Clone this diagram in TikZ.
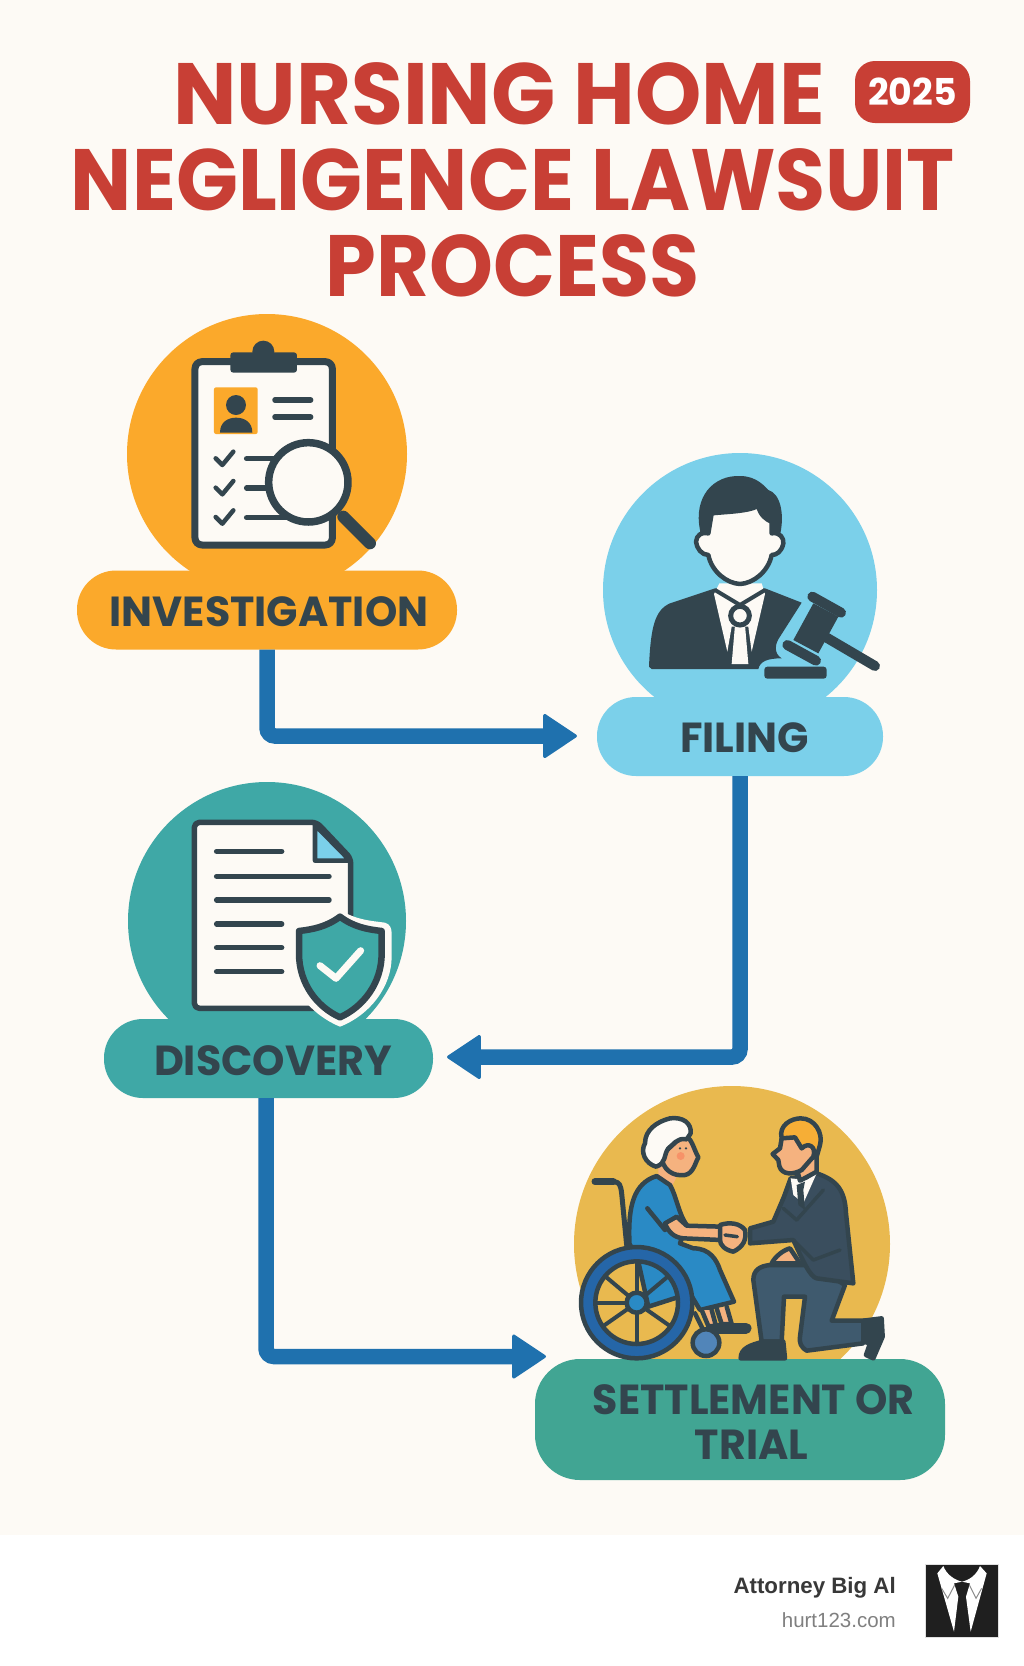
\documentclass[tikz,border=0pt]{standalone}
\usepackage{fontspec}
\usetikzlibrary{arrows.meta}
\newfontfamily\headfont[FakeStretch=0.935]{Poppins}
\newfontfamily\headwide[FakeStretch=0.97]{Poppins}
\newfontfamily\labelfont[FakeStretch=0.98]{Poppins}
\newfontfamily\footfont{Liberation Sans}
\definecolor{paper}{HTML}{FDFAF5}
\definecolor{titlered}{HTML}{C83F35}
\definecolor{inkc}{HTML}{33454E}
\definecolor{flowblue}{HTML}{1F71AE}
\definecolor{orangec}{HTML}{FBA92B}
\definecolor{skyc}{HTML}{7BD0EA}
\definecolor{tealc}{HTML}{3FA8A6}
\definecolor{goldc}{HTML}{E9B94F}
\definecolor{greenc}{HTML}{41A593}
\definecolor{skinc}{HTML}{F5B27F}
\definecolor{dressc}{HTML}{2A8AC5}
\definecolor{rimc}{HTML}{2566A8}
\definecolor{suitc}{HTML}{3A4E5E}
\definecolor{trousc}{HTML}{3F5A6E}
\tikzset{
  stepbox/.style={rounded corners=39pt,minimum height=79pt,inner sep=0pt,text=inkc,
    font=\labelfont\bfseries\fontsize{42}{44}\selectfont},
  flowline/.style={draw=flowblue,line width=15.5pt,rounded corners=8pt,
    -{Triangle[length=35pt,width=46pt,line width=3pt,round]}},
  headline/.style={text=titlered,anchor=base,inner sep=0pt,
    font=\headfont\bfseries\fontsize{87}{87}\selectfont},
  ink/.style={draw=inkc,line width=4.5pt,line join=round,line cap=round},
  rowline/.style={draw=inkc,line width=5.5pt,line cap=round},
}
\begin{document}
\begin{tikzpicture}[x=1pt,y=-1pt]
\useasboundingbox (0,0) rectangle (1024,1666);
\fill[white] (0,0) rectangle (1024,1666);
\fill[paper] (0,0) rectangle (1024,1535);

% title
\node[headline,font=\headwide\bfseries\fontsize{87}{87}\selectfont] (titletop) at (499,124) {NURSING HOME};
\node[headline] (titlemid) at (513,210) {NEGLIGENCE LAWSUIT};
\node[headline] (titlelow) at (512.5,296) {PROCESS};
\node[fill=titlered,rounded corners=20pt,minimum width=115pt,minimum height=62pt,inner sep=0pt,
  text=white,font=\labelfont\bfseries\fontsize{37}{37}\selectfont] (yearbadge) at (912.5,92) {2025};

% discs behind the steps
\fill[orangec] (267,454) circle (140);
\fill[skyc] (740,590) circle (137);
\fill[tealc] (267,921) circle (139);
\fill[goldc] (732,1244) circle (158);

% steps
\node[stepbox,fill=orangec,minimum width=380pt] (investigation) at (267,610) {\rule{0pt}{34pt}\hspace*{4pt}INVESTIGATION};
\node[stepbox,fill=skyc,minimum width=286pt] (filing) at (740,736.5) {\rule{0pt}{32pt}\hspace*{9pt}FILING};
\node[stepbox,fill=tealc,minimum width=329pt] (discovery) at (268.5,1058.5) {\rule{0pt}{34pt}\hspace*{9pt}DISCOVERY};
\node[stepbox,fill=greenc,minimum width=410pt,minimum height=121pt,rounded corners=45pt,align=center] (settlement) at (740,1419.5)
  {\rule{0pt}{35pt}\hspace*{27pt}SETTLEMENT OR\\[1pt]\hspace*{23pt}TRIAL};

% connectors
\coordinate (filingin) at (577,736);
\coordinate (discoveryin) at (447,1057);
\coordinate (settlementin) at (546,1356.5);
\draw[flowline] (investigation.south) |- (filingin);
\draw[flowline] (filing.south) |- (discoveryin);
\draw[flowline] ([xshift=-2.5pt]discovery.south) |- (settlementin);

% clipboard
\begin{scope}[shift={(60,300)},scale=1/3]
  \draw[ink,line width=7pt,fill=paper,rounded corners=7pt] (405,185) rectangle (817,735);
  \fill[inkc] (610,155) circle (33);
  \fill[inkc,rounded corners=3pt] (511,157) rectangle (711,218);
  \fill[orangec,rounded corners=2pt] (462,262) rectangle (593,402);
  \fill[inkc] (528,315) circle (30);
  \fill[inkc] (480,398) .. controls (480,365) and (505,353) .. (528,353) .. controls (552,353) and (577,365) .. (577,398) -- cycle;
  \draw[rowline] (645,300) -- (752,300);
  \draw[rowline] (645,351) -- (752,351);
  \foreach \y in {0,88,176}
  {   \draw[ink] (467,475+\y) -- (487,495+\y) -- (520,455+\y);
  }
  \draw[rowline] (560,476) -- (650,476);
  \draw[rowline] (560,564) -- (630,564);
  \draw[rowline] (560,653) -- (690,653);
  \draw[draw=inkc,line width=12pt,line cap=round] (850,650) -- (930,730);
  \draw[ink,line width=7.5pt,fill=paper] (745,547) circle (119);
\end{scope}

% lawyer and gavel
\begin{scope}[shift={(580,440)},scale=1/3]
  \fill[inkc] (207,680) .. controls (212,560) and (225,510) .. (270,490) -- (405,445) -- (555,445) -- (665,488)
    -- (600,590) .. controls (585,610) and (580,640) .. (605,655) .. controls (560,655) and (540,665) .. (535,687) -- (215,687) -- cycle;
  \fill[paper] (402,462) -- (418,430) -- (545,430) -- (555,462) -- (515,635) -- (505,560) -- (455,560) -- (442,635) -- cycle;
  \draw[draw=inkc,line width=4pt,line join=round] (405,450) -- (480,495) -- (555,450);
  \fill[paper] (465,555) -- (495,555) -- (505,672) -- (455,672) -- cycle;
  \draw[draw=inkc,line width=5pt,fill=paper] (480,527) circle (28);
  \fill[inkc] (360,270) .. controls (340,170) and (400,105) .. (480,108) .. controls (530,108) and (555,140) .. (565,150)
    .. controls (600,160) and (615,220) .. (600,285) -- (360,285) -- cycle;
  \draw[ink,fill=paper] (395,220) .. controls (440,215) and (500,215) .. (535,198) .. controls (540,225) and (560,240) .. (575,245)
    -- (575,280) .. controls (600,275) and (612,295) .. (610,310) .. controls (605,335) and (590,345) .. (575,345)
    .. controls (565,395) and (520,430) .. (480,432) .. controls (440,430) and (395,395) .. (385,345)
    .. controls (365,345) and (350,325) .. (348,305) .. controls (350,285) and (365,275) .. (385,280) -- cycle;
  \draw[draw=inkc,line width=10pt,line cap=round] (735,590) -- (885,678);
  \fill[inkc] (700,490) -- (775,530) -- (715,640) -- (640,600) -- cycle;
  \draw[draw=inkc,line width=10pt,line cap=round] (697,470) -- (783,518);
  \draw[draw=inkc,line width=10pt,line cap=round] (622,615) -- (708,662);
  \fill[inkc,rounded corners=3pt] (553,680) rectangle (740,716);
\end{scope}

% document and shield
\begin{scope}[shift={(100,770)},scale=1/3]
  \draw[ink,line width=5.5pt,fill=paper,rounded corners=5pt] (283,157) -- (650,157) -- (752,265) -- (752,715) -- (283,715) -- cycle;
  \draw[ink,fill=skyc] (645,165) -- (645,272) -- (750,272) -- cycle;
  \foreach \y/\xend in {244/545,319/687,390/687,462/545,533/545,605/545}
  {   \draw[rowline] (350,\y) -- (\xend,\y);
  }
  \fill[paper] (720,420) .. controls (770,450) and (810,452) .. (855,458) .. controls (870,462) and (875,475) .. (875,490)
    -- (875,560) .. controls (875,650) and (810,735) .. (720,770) .. controls (660,745) and (610,700) .. (580,640) -- (570,470)
    .. controls (630,462) and (680,450) .. (720,420) -- cycle;
  \draw[ink,line width=6.5pt,fill=tealc] (720,440) .. controls (680,470) and (640,478) .. (597,483) -- (597,550)
    .. controls (597,640) and (650,710) .. (720,742) .. controls (790,710) and (845,640) .. (845,550) -- (845,483)
    .. controls (800,478) and (760,470) .. (720,440) -- cycle;
  \draw[draw=paper,line width=7pt,line cap=round,line join=round] (660,587) -- (708,625) -- (782,542);
\end{scope}

% patient and lawyer shaking hands
\begin{scope}[shift={(530,1080)},scale=1/3]
  \draw[ink,line width=5pt] (250,305) .. controls (268,305) and (272,315) .. (275,340) -- (290,495);
  \draw[draw=inkc,line width=7pt,line cap=round] (195,305) -- (250,305);
  \fill[skinc] (385,250) -- (385,290) -- (425,320) -- (445,280) -- cycle;
  \draw[ink,fill=dressc] (298,480) .. controls (295,380) and (310,310) .. (380,288) -- (420,315)
    .. controls (440,350) and (445,400) .. (470,435) -- (450,490) -- (490,505) .. controls (540,505) and (560,540) .. (570,570)
    -- (612,665) -- (510,690) -- (480,640) -- (355,680) -- (325,545) -- (298,490) -- cycle;
  \draw[ink,fill=skinc] (405,430) -- (440,410) -- (470,437) -- (575,440) -- (575,480) -- (460,475) .. controls (430,472) and (415,455) .. (405,430) -- cycle;
  \draw[ink] (352,385) -- (405,450);
  \draw[ink,fill=skinc] (515,690) -- (535,738) -- (558,738) -- (545,690);
  \draw[ink,fill=skinc] (560,685) -- (575,732) -- (605,732) -- (590,680);
  \draw[ink] (495,700) -- (525,760);
  \draw[draw=inkc,line width=11pt,line cap=round] (555,745) -- (648,745);
  \draw[ink,fill=rimc!80!white] (528,788) circle (40);
  \draw[ink,fill=skinc] (395,225) .. controls (395,270) and (430,290) .. (465,285) .. controls (490,280) and (495,250) .. (505,232)
    .. controls (490,205) and (485,170) .. (460,165) -- cycle;
  \fill[inkc] (450,205) circle (4) (468,205) circle (4);
  \fill[red!18!skinc] (452,228) circle (12);
  \draw[ink,fill=paper] (378,260) .. controls (345,250) and (330,215) .. (345,190) .. controls (345,150) and (380,125) .. (420,115)
    .. controls (460,110) and (485,130) .. (482,160) -- (470,178) .. controls (440,172) and (430,195) .. (415,205)
    .. controls (400,225) and (410,250) .. (378,260) -- cycle;
  \draw[draw=rimc,line width=14pt] (320,668) circle (146);
  \draw[ink] (320,668) circle (167);
  \draw[ink] (320,668) circle (124);
  \foreach \a in {90,270,0,40,140,215,325}
  {   \draw[ink,line width=4pt,line cap=butt] (320,668) -- ++(\a:-124);
  }
  \draw[ink,fill=dressc] (320,668) circle (30);
  % lawyer
  \draw[ink,fill=trousc] (670,600) .. controls (670,570) and (690,558) .. (720,555) -- (850,555) -- (945,615) -- (905,722) -- (1010,722)
    -- (1000,790) -- (830,812) .. controls (812,800) and (808,790) .. (810,770) -- (825,650) -- (762,650) -- (755,785) -- (695,785) -- cycle;
  \draw[ink,fill=inkc] (632,835) .. controls (632,805) and (660,795) .. (700,785) -- (760,785) -- (765,835) -- cycle;
  \draw[ink,fill=inkc] (1000,722) -- (1055,715) -- (1058,770) -- (1030,835) -- (1008,825) -- (1020,790) -- (1000,785) -- cycle;
  \draw[ink,fill=suitc] (660,445) -- (730,425) -- (762,350) -- (782,295) -- (860,280) .. controls (920,300) and (945,330) .. (948,400)
    -- (970,610) -- (860,595) .. controls (840,590) and (820,545) .. (790,480) -- (660,490) -- cycle;
  \draw[ink,line width=3.5pt] (800,420) -- (880,330);
  \draw[ink,line width=3.5pt] (760,385) -- (800,420);
  \draw[ink,line width=3.5pt] (790,480) -- (850,540) -- (930,510);
  \draw[ink,fill=skinc] (725,550) .. controls (735,530) and (760,510) .. (780,505) -- (810,550) -- cycle;
  \fill[paper] (782,295) -- (830,300) -- (860,280) -- (820,370) -- (790,345) -- cycle;
  \fill[inkc] (800,315) -- (825,305) -- (820,330) -- (825,390) -- (805,375) -- cycle;
  \draw[ink,fill=skinc] (800,265) -- (860,225) -- (860,275) -- (810,302) -- cycle;
  \draw[ink,fill=goldc!30!orangec] (755,175) .. controls (745,135) and (785,115) .. (812,115) .. controls (855,115) and (880,160) .. (870,195) -- (860,230) -- cycle;
  \draw[ink,fill=skinc] (755,175) -- (795,172) -- (815,205) .. controls (835,185) and (860,200) .. (850,230) -- (815,270)
    .. controls (790,285) and (755,285) .. (748,258) -- (745,240) -- (728,222) -- (750,205) -- cycle;
  \draw[ink,fill=skinc] (570,435) .. controls (600,425) and (630,430) .. (645,450) .. controls (650,480) and (640,500) .. (610,515)
    .. controls (585,510) and (570,495) .. (570,480) -- cycle;
  \draw[ink,line width=3.5pt] (585,465) -- (622,470);
\end{scope}

% footer
\node[anchor=base east,inner sep=0pt,text=black!78,font=\footfont\bfseries\fontsize{22.3}{23}\selectfont] (firmname) at (896,1593) {Attorney Big Al};
\node[anchor=base east,inner sep=0pt,text=black!50,font=\footfont\fontsize{20.5}{21}\selectfont] (firmsite) at (896,1627) {hurt123.com};
\begin{scope}[shift={(680,1530)},scale=1/3]
  \draw[draw=black!12,line width=1.5pt,fill=black!88] (737,103) rectangle (955,322);
  \fill[white] (790,108) .. controls (800,135) and (825,150) .. (846,155) -- (822,160) -- (835,200) -- (822,305) -- (772,130) -- cycle;
  \fill[white] (900,108) .. controls (890,135) and (868,150) .. (846,155) -- (870,160) -- (858,200) -- (872,305) -- (920,130) -- cycle;
  \draw[draw=black!45,line width=1pt] (785,175) -- (803,205) -- (824,165);
  \draw[draw=black!45,line width=1pt] (905,175) -- (888,205) -- (868,165);
\end{scope}
\end{tikzpicture}
\end{document}
